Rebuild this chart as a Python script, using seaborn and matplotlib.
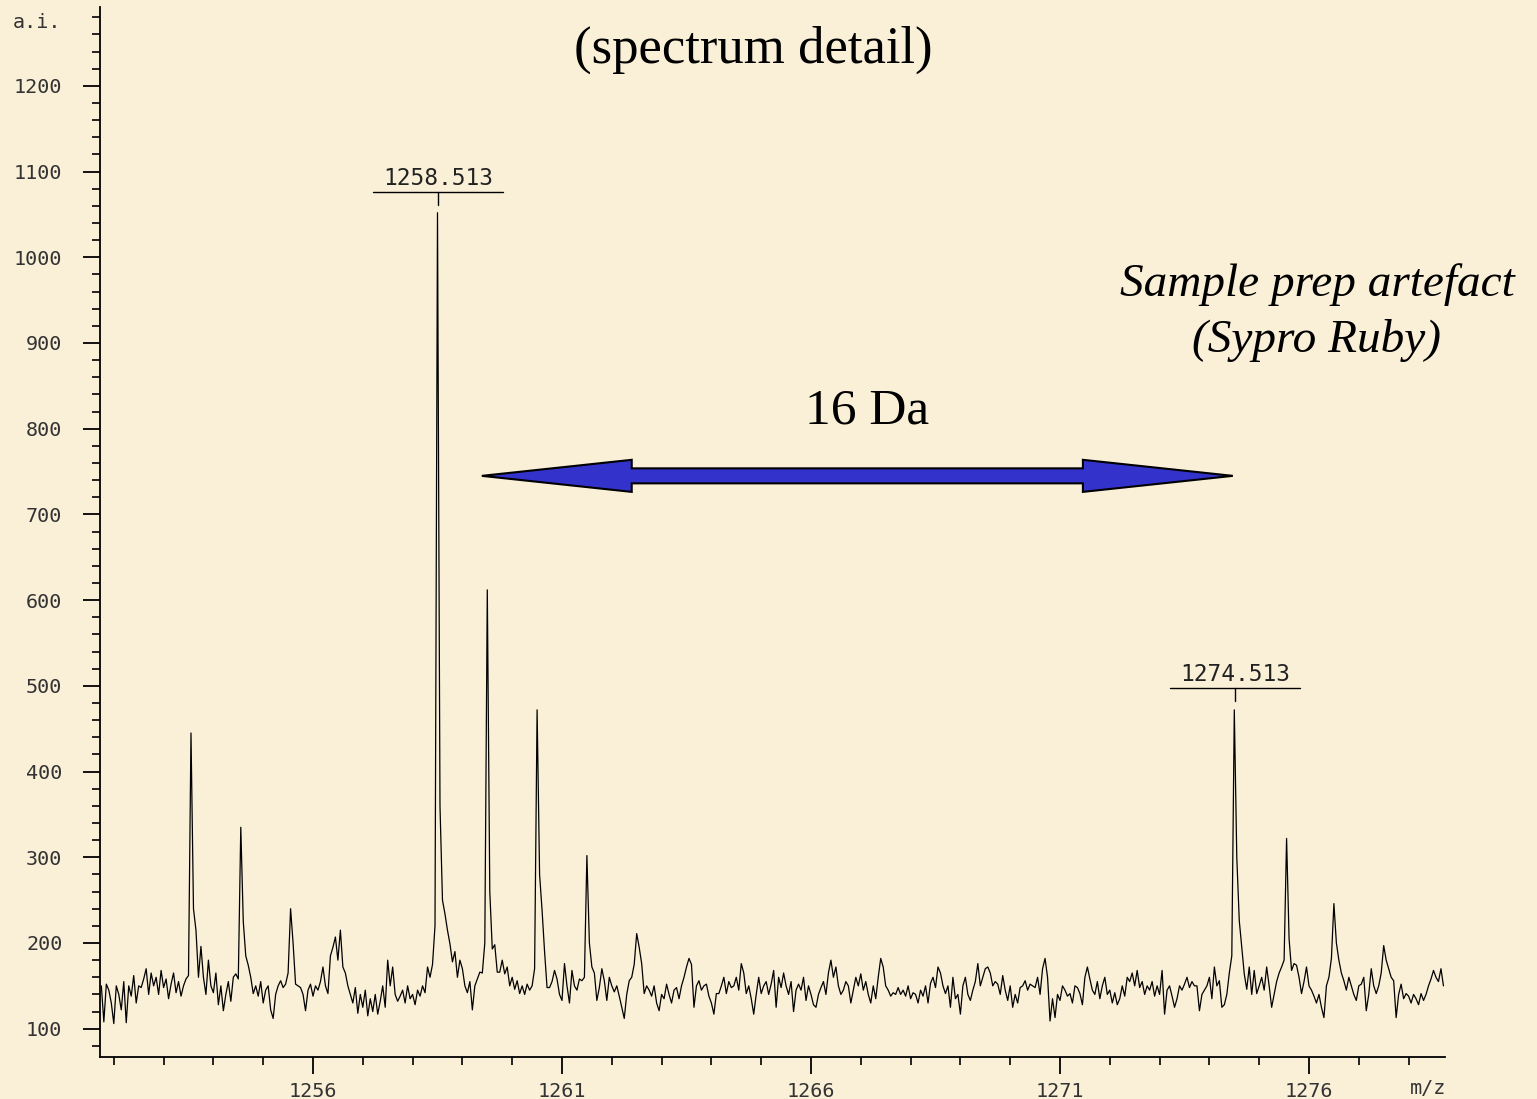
import numpy as np
import pandas as pd
import matplotlib
matplotlib.use("Agg")
import matplotlib.pyplot as plt
import seaborn as sns
from matplotlib.ticker import MultipleLocator, FixedLocator
from matplotlib.patches import Polygon

# ---------------- data ----------------
mz_start = 1251.75
mz_step = 0.05

# intensity (a.i.) sampled every 0.05 Da, one row = 1 Da
intensity_1252_1256 = [
    150, 108, 152, 145, 130, 106, 150, 140, 122, 155, 107, 150, 138, 162, 130, 150, 148, 158, 170, 140,
    165, 150, 160, 140, 168, 148, 158, 135, 152, 165, 142, 155, 138, 150, 158, 162, 445, 240, 215, 160,
    196, 160, 140, 180, 150, 142, 165, 128, 150, 121, 140, 155, 132, 160, 164, 158, 335, 225, 185, 174,
    160, 141, 150, 138, 155, 130, 145, 150, 122, 112, 140, 150, 156, 148, 152, 165, 240, 200, 152, 150,
    148, 140, 121, 145, 152, 138, 150, 145, 155, 172, 150, 141, 185, 195, 207, 180, 215, 172, 165, 150,
]
intensity_1257_1261 = [
    140, 130, 148, 118, 140, 125, 145, 115, 135, 120, 140, 117, 132, 150, 125, 180, 150, 172, 140, 132,
    138, 145, 130, 150, 135, 140, 128, 145, 138, 150, 142, 172, 160, 175, 220, 1052, 360, 250, 234, 215,
    199, 178, 190, 160, 180, 170, 150, 142, 155, 122, 150, 158, 166, 165, 200, 612, 260, 193, 198, 166,
    166, 180, 164, 172, 150, 160, 146, 156, 141, 150, 140, 152, 145, 150, 170, 472, 280, 238, 190, 148,
    148, 155, 168, 158, 140, 133, 176, 150, 130, 168, 150, 145, 158, 156, 160, 302, 200, 172, 165, 133,
]
intensity_1262_1266 = [
    148, 170, 156, 133, 160, 150, 143, 150, 138, 125, 112, 140, 156, 160, 175, 211, 195, 176, 141, 150,
    145, 138, 150, 130, 121, 140, 135, 152, 140, 130, 145, 148, 135, 150, 160, 172, 182, 175, 125, 150,
    156, 145, 150, 152, 138, 130, 117, 141, 141, 150, 160, 141, 155, 148, 150, 160, 145, 176, 165, 141,
    150, 135, 117, 140, 160, 141, 150, 155, 140, 152, 168, 125, 160, 148, 165, 150, 140, 155, 120, 145,
    152, 145, 160, 133, 150, 140, 128, 125, 140, 148, 155, 140, 165, 180, 160, 172, 150, 140, 145, 155,
]
intensity_1267_1271 = [
    150, 130, 145, 160, 150, 164, 145, 155, 140, 130, 150, 135, 160, 182, 172, 150, 145, 138, 142, 140,
    148, 140, 145, 138, 150, 135, 142, 140, 130, 145, 138, 150, 130, 153, 160, 148, 172, 165, 150, 141,
    150, 125, 160, 135, 140, 117, 150, 160, 140, 133, 145, 155, 176, 150, 160, 170, 172, 165, 150, 155,
    152, 140, 162, 145, 133, 150, 125, 140, 130, 148, 150, 156, 145, 152, 150, 148, 160, 140, 170, 182,
    160, 109, 135, 113, 140, 133, 150, 145, 138, 141, 130, 150, 148, 141, 128, 160, 172, 158, 145, 140,
]
intensity_1272_1276 = [
    155, 135, 150, 160, 140, 145, 130, 142, 128, 135, 150, 138, 160, 155, 165, 150, 168, 148, 155, 140,
    150, 145, 155, 138, 150, 140, 168, 117, 145, 150, 138, 125, 135, 150, 145, 152, 160, 148, 155, 150,
    150, 121, 140, 145, 150, 160, 135, 172, 150, 156, 125, 128, 140, 165, 185, 472, 300, 226, 195, 164,
    146, 172, 140, 168, 141, 150, 160, 145, 172, 150, 125, 140, 155, 165, 172, 180, 322, 205, 168, 176,
    174, 160, 141, 155, 172, 150, 145, 138, 130, 140, 125, 113, 150, 160, 182, 246, 200, 180, 165, 156,
]
intensity_1277_1278 = [
    145, 160, 150, 140, 133, 150, 152, 160, 121, 140, 170, 150, 141, 150, 165, 197, 180, 170, 160, 156,
    113, 140, 152, 135, 141, 138, 130, 140, 135, 128, 141, 133, 140, 150, 158, 168, 160, 155, 170, 150,
]

x_major_ticks = [1256, 1261, 1266, 1271, 1276]
peak_labels = ["1258.513", "1274.513"]
peak_label_mz = [1258.513, 1274.513]
peak_label_y = [1076, 497]

intensity = (intensity_1252_1256 + intensity_1257_1261 + intensity_1262_1266
             + intensity_1267_1271 + intensity_1272_1276 + intensity_1277_1278)
mz = mz_start + mz_step * np.arange(len(intensity))
df = pd.DataFrame({"mz": mz, "intensity": intensity})

# ---------------- style ----------------
sns.set_theme(style="ticks")
plt.rcParams["font.family"] = ["DejaVu Sans"]
bg = "#FAF0D8"

W, H = 1537, 1099
fig = plt.figure(figsize=(W / 100, H / 100), dpi=100)
fig.patch.set_facecolor(bg)
ax = fig.add_axes([100 / W, (H - 1057) / H, 1345 / W, 1050 / H])
ax.set_facecolor(bg)

sns.lineplot(data=df, x="mz", y="intensity", ax=ax, color="black",
             linewidth=0.9, estimator=None, sort=False)

ax.set_xlim(1251.723, 1278.731)
ax.set_ylim(67, 1292)
ax.set_xlabel("")
ax.set_ylabel("")
for s in ["top", "right"]:
    ax.spines[s].set_visible(False)
for s in ["left", "bottom"]:
    ax.spines[s].set_linewidth(1.3)
    ax.spines[s].set_color("black")

ax.xaxis.set_major_locator(FixedLocator(x_major_ticks))
ax.xaxis.set_minor_locator(MultipleLocator(1))
ax.yaxis.set_major_locator(MultipleLocator(100))
ax.yaxis.set_minor_locator(MultipleLocator(20))
ax.tick_params(axis="both", which="major", length=12, width=1.3, color="black",
               labelcolor="#333333", labelsize=14.5, labelfontfamily="DejaVu Sans Mono")
ax.tick_params(axis="both", which="minor", length=6, width=1.2, color="black")
ax.tick_params(axis="x", which="major", pad=6)
ax.tick_params(axis="y", which="major", pad=15)

# peak labels
for lab, m, ly in zip(peak_labels, peak_label_mz, peak_label_y):
    ax.plot([m - 1.305, m + 1.305], [ly, ly], color="black", lw=1.0)
    ax.plot([m, m], [ly, ly - 15], color="black", lw=1.0)
    ax.text(m, ly + 3, lab, ha="center", va="bottom", fontsize=16.5,
            family="DejaVu Sans Mono", color="#222222")

# double-headed arrow (16 Da)
xl, xr, yc = 1259.39, 1274.47, 745
hl, hh, sh = 3.01, 18.7, 8.75
verts = [(xl, yc), (xl + hl, yc + hh), (xl + hl, yc + sh), (xr - hl, yc + sh),
         (xr - hl, yc + hh), (xr, yc), (xr - hl, yc - hh), (xr - hl, yc - sh),
         (xl + hl, yc - sh), (xl + hl, yc - hh)]
ax.add_patch(Polygon(verts, closed=True, facecolor="#3333CC", edgecolor="black",
                     lw=1.5, zorder=5))

def fx(px):
    return px / W

def fy(py):
    return 1 - py / H

serif = "Liberation Serif"
fig.text(fx(753), fy(63), "(spectrum detail)", ha="center", va="baseline",
         fontsize=38, family=serif, color="black")
fig.text(fx(867), fy(424), "16 Da", ha="center", va="baseline",
         fontsize=37, family=serif, color="black")
fig.text(fx(1317), fy(296), "Sample prep artefact", ha="center", va="baseline",
         fontsize=34, family=serif, style="italic", color="black")
fig.text(fx(1317), fy(352), "(Sypro Ruby)", ha="center", va="baseline",
         fontsize=34, family=serif, style="italic", color="black")
fig.text(fx(13), fy(22), "a.i.", ha="left", va="center", fontsize=14.5,
         family="DejaVu Sans Mono", color="#333333")
fig.text(fx(1446), fy(1088), "m/z", ha="right", va="center", fontsize=14.5,
         family="DejaVu Sans Mono", color="#333333")

fig.savefig("out.png", dpi=100, facecolor=bg)
